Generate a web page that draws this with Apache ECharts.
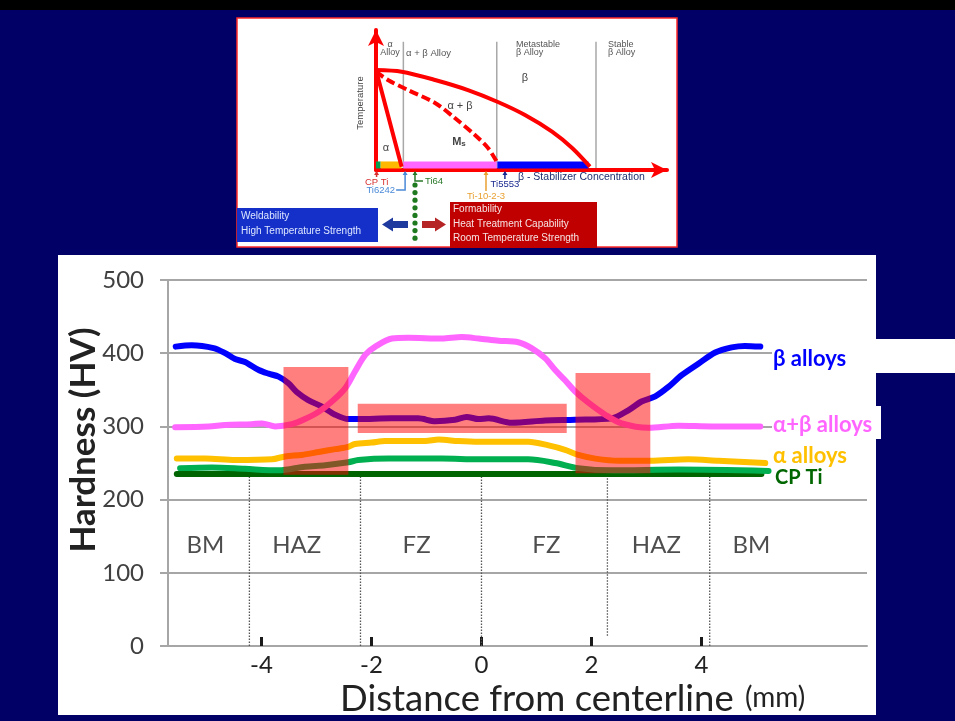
<!DOCTYPE html>
<html>
<head>
<meta charset="utf-8">
<script src="https://cdn.jsdelivr.net/npm/echarts@6/dist/echarts.min.js"></script>
<style>
  html, body { margin: 0; padding: 0; background: #000066; }
  #chart { width: 955px; height: 721px; }
</style>
</head>
<body>
<div id="chart"></div>
<script>
// ---- Hardness profiles across the weld (distance in mm, hardness in HV) ----
const betaAlloys = [[-5.56,409],[-5.27,411],[-4.87,407],[-4.66,400],[-4.48,392],[-4.30,388],[-4.05,377],[-3.87,372],[-3.69,368],[-3.51,359],[-3.36,347],[-3.15,336],[-2.90,327],[-2.66,316],[-2.42,310],[-2.24,310],[-1.64,311],[-1.15,311],[-0.84,307],[-0.48,309],[-0.27,313],[-0.05,310],[0.13,311],[0.55,305],[1.16,308],[1.70,309],[2.37,311],[2.67,322],[2.91,334],[3.16,341],[3.40,354],[3.64,370],[3.95,386],[4.25,401],[4.55,408],[4.79,410],[5.07,409]];
const alphaBetaAlloys = [[-5.57,299],[-4.96,300],[-4.66,302],[-4.18,303],[-3.99,304],[-3.75,300],[-3.45,303],[-3.21,310],[-2.96,320],[-2.72,334],[-2.48,352],[-2.30,375],[-2.11,398],[-1.93,409],[-1.63,420],[-1.33,421],[-0.72,420],[-0.36,422],[-0.05,420],[0.31,417],[0.67,415],[0.91,407],[1.16,393],[1.34,377],[1.52,363],[1.70,348],[1.95,332],[2.25,316],[2.55,304],[3.04,298],[3.58,301],[4.19,300],[5.07,300]];
const alphaAlloys = [[-5.54,256],[-5.02,256],[-4.48,254],[-3.81,255],[-3.57,259],[-3.27,261],[-2.96,265],[-2.66,269],[-2.42,272],[-2.30,276],[-2.00,278],[-1.75,280],[-1.02,280],[-0.78,282],[-0.42,280],[-0.05,279],[0.85,279],[1.22,274],[1.52,268],[1.76,261],[2.07,256],[2.49,253],[3.07,253],[3.76,255],[4.31,253],[5.16,250]];
const nearAlphaAlloys = [[-5.48,243],[-4.90,244],[-4.30,242],[-3.69,240],[-3.21,245],[-2.84,247],[-2.42,251],[-2.24,254],[-1.69,256],[-0.72,256],[-0.05,255],[0.85,255],[1.34,250],[1.76,243],[2.37,240],[3.58,241],[5.22,239]];
const cpTi = [[-5.54,235],[5.09,235]];

const distanceTicks = [-4, -2, 0, 2, 4];

// weld zones
const zoneNames = ['BM', 'HAZ', 'FZ', 'FZ', 'HAZ', 'BM'];
const zoneCentres = [-5.02, -3.36, -1.18, 1.18, 3.18, 4.91];
const zoneLabelLevel = 138;
const zoneBoundaries = [-4.22, -2.2, 0, 2.29, 4.15];
const boundaryBottom = [0, 0, 0, 14, 0];
const boundaryTop = [235, 235, 232, 235, 235];

// highlighted hardness bands
const bandFrom = [-3.6, -2.25, 1.71];
const bandTo = [-2.42, 1.55, 3.07];
const bandBottom = [234, 291, 236];
const bandTop = [381, 331, 373];

// ---- Schematic pseudo-binary phase diagram (concentration / temperature, 0-100) ----
const betaTransus = [[0,71.4],[8.8,70.2],[20.3,64.3],[31.6,57.1],[41.9,48.6],[51.2,39.3],[60.5,27.4],[67.4,15.7],[73.5,2.4]];
const alphaSolvus = [[0,71.4],[4.1,39.3],[8.8,2.4]];
const martensiteStart = [[0,70.2],[4.1,64.3],[11,57.1],[20.3,47.9],[27.1,37.1],[34,25],[38.5,15.7],[41.5,5.9]];
const classDividers = [9.4, 41.5, 75.6];
const classBarStart = [0, 1.6, 9.4, 41.7];
const classBarEnd = [1.6, 8.8, 41.5, 73.0];
const classBarLevel = 3.6;
const alloyNames = ['CP Ti', 'Ti6242', 'Ti64', 'Ti-10-2-3', 'Ti5553'];
const alloyConcentrations = [0.2, 10.0, 13.4, 37.8, 44.3];

const FONT = 'Lato, "Noto Sans", sans-serif';
const SMALL = '"Liberation Sans", Arial, sans-serif';
const classBarColours = ['#00a050', '#ffb800', '#ff66ff', '#0000ff'];
const alloyColours = ['#d83030', '#4a8ad8', '#2a7a2a', '#e8a030', '#1a2a90'];

const chart = echarts.init(document.getElementById('chart'), null, { renderer: 'canvas' });

function arrowHead(x, y, color) {
  return { type: 'polygon', shape: { points: [[x, y], [x - 2.5, y + 4], [x + 2.5, y + 4]] }, style: { fill: color } };
}

function alloyMarker(params, api) {
  const i = params.dataIndex;
  const p = api.coord([api.value(0), 0]);
  const x = p[0], y0 = p[1] + 2;
  const c = alloyColours[i];
  const kids = [];
  const txt = (tx, ty, align) => ({ type: 'text', style: { x: tx, y: ty, text: alloyNames[i], fill: c, fontSize: 9.5, fontFamily: SMALL, align: align, verticalAlign: 'middle' } });
  const stroke = { stroke: c, lineWidth: 1.5 };
  if (i === 0) {
    kids.push({ type: 'line', shape: { x1: x, y1: y0, x2: x, y2: y0 + 5 }, style: stroke }, arrowHead(x, y0 - 1, c), txt(x, y0 + 10, 'center'));
  } else if (i === 1) {
    kids.push({ type: 'polyline', shape: { points: [[x, y0], [x, y0 + 18], [x - 9, y0 + 18]] }, style: Object.assign({ fill: null }, stroke) }, arrowHead(x, y0 - 1, c), txt(x - 10, y0 + 18, 'right'));
  } else if (i === 2) {
    kids.push({ type: 'polyline', shape: { points: [[x, y0], [x, y0 + 9], [x + 8, y0 + 9]] }, style: Object.assign({ fill: null }, stroke) }, arrowHead(x, y0 - 1, c), txt(x + 10, y0 + 9, 'left'));
    for (let k = 0; k < 8; k++) {
      kids.push({ type: 'circle', shape: { cx: x, cy: y0 + 13 + k * 7.6, r: 2.6 }, style: { fill: '#1f7a1f' } });
    }
  } else if (i === 3) {
    kids.push({ type: 'line', shape: { x1: x, y1: y0, x2: x, y2: y0 + 19 }, style: stroke }, arrowHead(x, y0 - 1, c), txt(x, y0 + 24, 'center'));
  } else {
    kids.push({ type: 'line', shape: { x1: x, y1: y0, x2: x, y2: y0 + 7 }, style: stroke }, arrowHead(x, y0 - 1, c), txt(x, y0 + 12, 'center'));
  }
  return { type: 'group', children: kids };
}

const hardnessLine = (name, data, color, width) => ({
  name, type: 'line', data, xAxisIndex: 0, yAxisIndex: 0, showSymbol: false, symbol: 'none',
  smooth: 0.3, z: 3, lineStyle: { color, width, cap: 'round', join: 'round' }
});

const t = (x, y, text, o) => ({ type: 'text', z: 20, style: Object.assign({ x, y, text, fill: '#555', fontSize: 9, fontFamily: SMALL, align: 'left', verticalAlign: 'middle' }, o || {}) });

const option = {
  backgroundColor: '#000066',
  animation: false,
  grid: [
    { left: 168, top: 280, width: 699, height: 366 },
    { left: 376, top: 30, width: 291, height: 140 }
  ],
  xAxis: [
    {
      gridIndex: 0, type: 'value', min: -5.70, max: 7.01,
      axisLine: { show: true, onZero: false, lineStyle: { color: '#a6a6a6', width: 2 } },
      axisTick: { show: true, inside: true, length: 9, customValues: distanceTicks, lineStyle: { color: '#1a1a1a', width: 3 } },
      axisLabel: { customValues: distanceTicks, fontSize: 24, color: '#222', fontFamily: FONT, margin: 7 },
      splitLine: { show: false }
    },
    {
      gridIndex: 1, type: 'value', min: 0, max: 100,
      axisLine: { show: true, onZero: false, symbol: ['none', 'arrow'], symbolSize: [12, 16], lineStyle: { color: '#ff0000', width: 4 } },
      axisTick: { show: false }, axisLabel: { show: false }, splitLine: { show: false }
    }
  ],
  yAxis: [
    {
      gridIndex: 0, type: 'value', min: 0, max: 500, interval: 100,
      axisLine: { show: true, onZero: false, lineStyle: { color: '#a6a6a6', width: 2 } },
      axisTick: { show: true, length: 8, lineStyle: { color: '#a6a6a6', width: 2 } },
      axisLabel: { fontSize: 24, color: '#404040', fontFamily: FONT, margin: 24 },
      splitLine: { show: true, lineStyle: { color: '#a6a6a6', width: 2 } }
    },
    {
      gridIndex: 1, type: 'value', min: 0, max: 100,
      axisLine: { show: true, onZero: false, symbol: ['none', 'arrow'], symbolSize: [12, 16], lineStyle: { color: '#ff0000', width: 4 } },
      axisTick: { show: false }, axisLabel: { show: false }, splitLine: { show: false }
    }
  ],
  series: [
    {
      name: 'zone boundaries', type: 'custom', xAxisIndex: 0, yAxisIndex: 0, z: 2,
      data: zoneBoundaries.map((x, i) => [x, boundaryBottom[i], boundaryTop[i]]),
      renderItem: (params, api) => {
        const a = api.coord([api.value(0), api.value(1)]);
        const b = api.coord([api.value(0), api.value(2)]);
        return { type: 'line', shape: { x1: a[0], y1: a[1], x2: b[0], y2: b[1] }, style: { stroke: '#555', lineWidth: 1.3, lineDash: [1.5, 1.5] } };
      }
    },
    {
      name: 'zones', type: 'scatter', xAxisIndex: 0, yAxisIndex: 0, symbolSize: 0, z: 2,
      data: zoneCentres.map((x, i) => ({ value: [x, zoneLabelLevel], name: zoneNames[i] })),
      label: { show: true, position: 'inside', formatter: '{b}', fontSize: 24, color: '#222', fontFamily: FONT }
    },
    hardnessLine('CP Ti', cpTi, '#006400', 6),
    hardnessLine('near-α alloys', nearAlphaAlloys, '#00b050', 6),
    hardnessLine('α alloys', alphaAlloys, '#ffc000', 6),
    hardnessLine('β alloys', betaAlloys, '#0000ff', 6),
    hardnessLine('α+β alloys', alphaBetaAlloys, '#ff66ff', 6),
    {
      name: 'bands', type: 'custom', xAxisIndex: 0, yAxisIndex: 0, z: 6,
      data: bandFrom.map((x, i) => [x, bandTo[i], bandBottom[i], bandTop[i]]),
      renderItem: (params, api) => {
        const a = api.coord([api.value(0), api.value(3)]);
        const b = api.coord([api.value(1), api.value(2)]);
        return { type: 'rect', shape: { x: a[0], y: a[1], width: b[0] - a[0], height: b[1] - a[1] }, style: { fill: 'rgba(255,0,0,0.5)' } };
      }
    },
    // phase diagram
    {
      name: 'class dividers', type: 'custom', xAxisIndex: 1, yAxisIndex: 1, z: 2,
      data: classDividers.map(x => [x]),
      renderItem: (params, api) => {
        const a = api.coord([api.value(0), 1.4]);
        const b = api.coord([api.value(0), 91.6]);
        return { type: 'line', shape: { x1: a[0], y1: a[1], x2: b[0], y2: b[1] }, style: { stroke: '#a8a8a8', lineWidth: 1.5 } };
      }
    },
    {
      name: 'class bar', type: 'custom', xAxisIndex: 1, yAxisIndex: 1, z: 3,
      data: classBarStart.map((x, i) => [x, classBarEnd[i]]),
      renderItem: (params, api) => {
        const a = api.coord([api.value(0), classBarLevel]);
        const b = api.coord([api.value(1), classBarLevel]);
        return { type: 'rect', shape: { x: a[0], y: a[1] - 3.5, width: b[0] - a[0], height: 7 }, style: { fill: classBarColours[params.dataIndex] } };
      }
    },
    {
      name: 'beta transus', type: 'line', xAxisIndex: 1, yAxisIndex: 1, data: betaTransus, smooth: 0.3,
      symbol: 'none', z: 4, lineStyle: { color: '#ff0000', width: 4 }
    },
    {
      name: 'alpha solvus', type: 'line', xAxisIndex: 1, yAxisIndex: 1, data: alphaSolvus, smooth: 0.2,
      symbol: 'none', z: 4, lineStyle: { color: '#ff0000', width: 4 }
    },
    {
      name: 'Ms', type: 'line', xAxisIndex: 1, yAxisIndex: 1, data: martensiteStart, smooth: 0.3,
      symbol: 'none', z: 4, lineStyle: { color: '#ff0000', width: 4, type: [9, 4] }
    },
    {
      name: 'alloys', type: 'custom', xAxisIndex: 1, yAxisIndex: 1, z: 5,
      data: alloyConcentrations.map(x => [x]),
      renderItem: alloyMarker
    }
  ],
  graphic: [
    { type: 'rect', z: -5, shape: { x: 0, y: 0, width: 955, height: 10 }, style: { fill: '#000000' } },
    { type: 'rect', z: -5, shape: { x: 237, y: 18, width: 440, height: 229 }, style: { fill: '#ffffff', stroke: '#ff2a2a', lineWidth: 1.5 } },
    { type: 'rect', z: -5, shape: { x: 58, y: 255, width: 818, height: 460 }, style: { fill: '#ffffff' } },
    // series name tags
    { type: 'rect', z: 8, shape: { x: 772, y: 339, width: 183, height: 34 }, style: { fill: '#ffffff' } },
    { type: 'rect', z: 8, shape: { x: 772, y: 406, width: 109, height: 33 }, style: { fill: '#ffffff' } },
    { type: 'text', z: 9, style: { x: 773, y: 359, text: 'β alloys', fill: '#0000ff', fontSize: 22, fontWeight: 'bold', fontFamily: FONT, verticalAlign: 'middle' } },
    { type: 'text', z: 9, style: { x: 773, y: 425, text: 'α+β alloys', fill: '#ff66ff', fontSize: 22, fontWeight: 'bold', fontFamily: FONT, verticalAlign: 'middle' } },
    { type: 'text', z: 9, style: { x: 773, y: 456, text: 'α alloys', fill: '#ffc000', fontSize: 22, fontWeight: 'bold', fontFamily: FONT, verticalAlign: 'middle' } },
    { type: 'text', z: 9, style: { x: 775, y: 478, text: 'CP Ti', fill: '#006600', fontSize: 20, fontWeight: 'bold', fontFamily: FONT, verticalAlign: 'middle' } },
    // axis titles
    { type: 'text', z: 9, x: 84, y: 440, rotation: Math.PI / 2, style: { x: 0, y: 0, text: 'Hardness (HV)', fill: '#222', fontSize: 35, fontWeight: 'bold', fontFamily: FONT, align: 'center', verticalAlign: 'middle' } },
    { type: 'text', z: 9, style: { x: 340, y: 699, text: 'Distance from centerline', fill: '#222', fontSize: 36.5, fontFamily: FONT, align: 'left', verticalAlign: 'middle' } },
    { type: 'text', z: 9, style: { x: 745, y: 698, text: '(mm)', fill: '#222', fontSize: 28, fontFamily: FONT, align: 'left', verticalAlign: 'middle' } },
    // phase diagram annotations
    t(390, 45, 'α', { align: 'center' }),
    t(390, 53, 'Alloy', { align: 'center' }),
    t(406, 53, 'α + β Alloy', { fontSize: 9.5 }),
    t(516, 45, 'Metastable'),
    t(516, 53, 'β Alloy'),
    t(608, 45, 'Stable'),
    t(608, 53, 'β Alloy'),
    { type: 'text', z: 20, x: 360, y: 103, rotation: Math.PI / 2, style: { x: 0, y: 0, text: 'Temperature', fill: '#444', fontSize: 9.5, fontFamily: SMALL, align: 'center', verticalAlign: 'middle' } },
    t(525, 78, 'β', { fontSize: 11, align: 'center', fill: '#444' }),
    t(460, 106, 'α + β', { fontSize: 11, align: 'center', fill: '#444' }),
    { type: 'text', z: 20, style: { x: 459, y: 142, text: '{m|M}{s|s}', align: 'center', verticalAlign: 'middle', rich: { m: { fontSize: 11, fontFamily: SMALL, fill: '#444', fontWeight: 'bold' }, s: { fontSize: 8, fontFamily: SMALL, fill: '#444', fontWeight: 'bold', padding: [4, 0, 0, 0] } } } },
    t(386, 148, 'α', { fontSize: 11, align: 'center', fill: '#444' }),
    t(518, 177, 'β - Stabilizer Concentration', { fontSize: 10.5, fill: '#1f2f6f' }),
    // property boxes
    { type: 'rect', z: 10, shape: { x: 237, y: 208, width: 141, height: 34 }, style: { fill: '#1430c8' } },
    t(241, 216.5, 'Weldability', { fontSize: 10, fill: '#dde6ff' }),
    t(241, 231.5, 'High Temperature Strength', { fontSize: 10, fill: '#dde6ff' }),
    { type: 'polygon', z: 10, shape: { points: [[382, 224.5], [393, 217.5], [393, 221], [408, 221], [408, 228], [393, 228], [393, 231.5]] }, style: { fill: '#1f3a9e' } },
    { type: 'polygon', z: 10, shape: { points: [[446, 224.5], [435, 217.5], [435, 221], [422, 221], [422, 228], [435, 228], [435, 231.5]] }, style: { fill: '#b52525' } },
    { type: 'rect', z: 10, shape: { x: 450, y: 202, width: 147, height: 46 }, style: { fill: '#c00000' } },
    t(453, 209, 'Formability', { fontSize: 10, fill: '#f6e2e2' }),
    t(453, 224, 'Heat Treatment Capability', { fontSize: 10, fill: '#f6e2e2' }),
    t(453, 238.5, 'Room Temperature Strength', { fontSize: 10, fill: '#f6e2e2' })
  ]
};

chart.setOption(option);
</script>
</body>
</html>
